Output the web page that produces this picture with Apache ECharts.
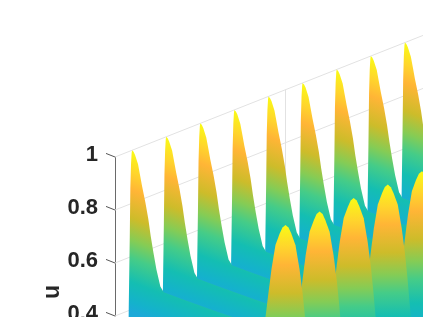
<!DOCTYPE html>
<html><head><meta charset="utf-8">
<style>html,body{margin:0;padding:0;background:#fff}#c{width:423px;height:317px}</style>
<script src="https://cdn.jsdelivr.net/npm/echarts@6/dist/echarts.min.js"></script>
</head><body><div id="c"></div>
<script>
const uTicks = [0.4, 0.6, 0.8, 1];
const backPeaks = [0.5, 1.5, 2.5, 3.5, 4.5, 5.5, 6.5, 7.5, 8.5];
const frontPeaks = [5, 6, 7, 8, 9];
const frontDepth = 1;
const depthDrop = 0.5106;
const wallSkew = 0.0508;
const backLeftS = [-0.13, -0.097, -0.067, -0.05, -0.03, -0.012];
const backLeftU = [0.0, 0.41, 0.675, 0.86, 0.95, 0.99];
const backFlankS = [0, 0.044, 0.088, 0.176, 0.235, 0.293, 0.39, 0.478, 0.548, 0.625, 0.713, 0.83, 0.93];
const backFlankU = [1, 0.992, 0.978, 0.938, 0.894, 0.85, 0.784, 0.715, 0.648, 0.583, 0.515, 0.444, 0.417];
const tailS = [1.5, 2.5, 4, 6, 9];
const tailDepth = [0.11, 0.3, 0.58, 0.95, 1.5];
const tailU = 0.417;
const frontS = [-1.1, -0.704, -0.587, -0.5, -0.41, -0.293, -0.167, -0.088, 0, 0.088, 0.167, 0.293, 0.41, 0.5, 0.572, 0.645, 0.95];
const frontU = [0.0, 0.564, 0.683, 0.769, 0.855, 0.94, 0.977, 0.995, 1, 0.986, 0.96, 0.909, 0.813, 0.718, 0.624, 0.514, 0.0];
const colorU = [1, 0.917, 0.849, 0.743, 0.66, 0.592, 0.502, 0.426, 0.389];
const colorHex = ['#F9FB15', '#FFD52C', '#FFB536', '#CDBC2A', '#85CC55', '#45CC88', '#14BEB2', '#14B2CC', '#1CA9D8'];
const wallS = [0, 10];
const gridS = 5;
const bandTilt = 0.38;

const colorEnd = colorU[colorU.length - 1];
const stops = colorU.map((u, i) => ({offset: (1 - u) / (1 - colorEnd), color: colorHex[i]}));
function project(s, depth, u) { return [s, u + wallSkew * s - depthDrop * depth]; }
function ridgeFill(api, s, depth, tilt) {
  const a = api.coord(project(s, depth, 1));
  const b = api.coord(project(s, depth, colorEnd));
  const L = b[1] - a[1], n = Math.hypot(tilt, 1);
  return new echarts.graphic.LinearGradient(a[0], a[1], a[0] - L * tilt / n / n, a[1] + L / n / n, stops, true);
}
function backRidge(params, api) {
  const s = api.value(0), pts = [];
  backLeftS.forEach((d, i) => pts.push(api.coord(project(s + d, 0, backLeftU[i]))));
  backFlankS.forEach((d, i) => pts.push(api.coord(project(s + d, 0, backFlankU[i]))));
  tailS.forEach((d, i) => pts.push(api.coord(project(s + d, tailDepth[i], tailU))));
  pts.push(api.coord(project(s + tailS[tailS.length - 1], 3, 0)));
  pts.push(api.coord(project(s + backLeftS[0], 3, 0)));
  return {type: 'polygon', shape: {points: pts}, style: {fill: ridgeFill(api, s, 0, bandTilt)}};
}
function frontRidge(params, api) {
  const s = api.value(0), pts = [];
  frontS.forEach((d, i) => pts.push(api.coord(project(s + d, frontDepth, frontU[i]))));
  return {type: 'polygon', shape: {points: pts}, style: {fill: ridgeFill(api, s, frontDepth, 0)}};
}
function wallLine(params, api) {
  const u = api.value(0);
  const a = api.coord(project(wallS[0], 0, u)), b = api.coord(project(wallS[1], 0, u));
  return {type: 'line', shape: {x1: a[0], y1: a[1], x2: b[0], y2: b[1]}, style: {stroke: '#E2E2E2', lineWidth: 1}};
}
function gridUpright(params, api) {
  const a = api.coord(project(api.value(0), 0, 1)), b = api.coord(project(api.value(0), 0, uTicks[0]));
  return {type: 'line', shape: {x1: a[0], y1: a[1], x2: b[0], y2: b[1]}, style: {stroke: '#E2E2E2', lineWidth: 1}};
}
function tick(params, api) {
  const u = api.value(0);
  const a = api.coord(project(0, 0, u)), b = api.coord(project(-0.264, -0.0526, u));
  return {type: 'line', shape: {x1: a[0], y1: a[1], x2: b[0], y2: b[1]}, style: {stroke: '#555', lineWidth: 1}};
}
const desc = a => a.slice().sort((p, q) => q - p).map(v => [v]);
const chart = echarts.init(document.getElementById('c'), null, {renderer: 'canvas'});
chart.setOption({
  animation: false,
  grid: {left: 115, right: 0, top: 157, height: 159, outerBoundsMode: 'none'},
  xAxis: {type: 'value', min: 0, max: 9.032, show: false},
  yAxis: {
    type: 'value', min: 0.4, max: 1, interval: 0.2,
    axisLine: {show: true, onZero: false, lineStyle: {color: '#6A6A6A', width: 1}},
    axisTick: {show: false}, splitLine: {show: false},
    axisLabel: {margin: 17, hideOverlap: false, formatter: '{t|{value}}',
      rich: {t: {fontFamily: 'Liberation Sans', fontWeight: 'bold', fontSize: 22, color: '#262626', padding: [0, 0, 4, 0]}}}
  },
  graphic: [{type: 'text', x: 41, y: 299, rotation: Math.PI / 2, style: {text: 'u', font: 'bold 23px "Liberation Sans"', fill: '#262626', textAlign: 'left', textBaseline: 'top'}}],
  series: [
    {type: 'custom', renderItem: wallLine, data: uTicks.map(v => [v]), z: 1, silent: true},
    {type: 'custom', renderItem: gridUpright, data: [[gridS]], z: 1, silent: true},
    {type: 'custom', renderItem: tick, data: uTicks.map(v => [v]), z: 1, silent: true},
    {type: 'custom', renderItem: backRidge, data: desc(backPeaks), z: 3, silent: true},
    {type: 'custom', renderItem: frontRidge, data: desc(frontPeaks), z: 4, silent: true}
  ]
});
</script></body></html>
